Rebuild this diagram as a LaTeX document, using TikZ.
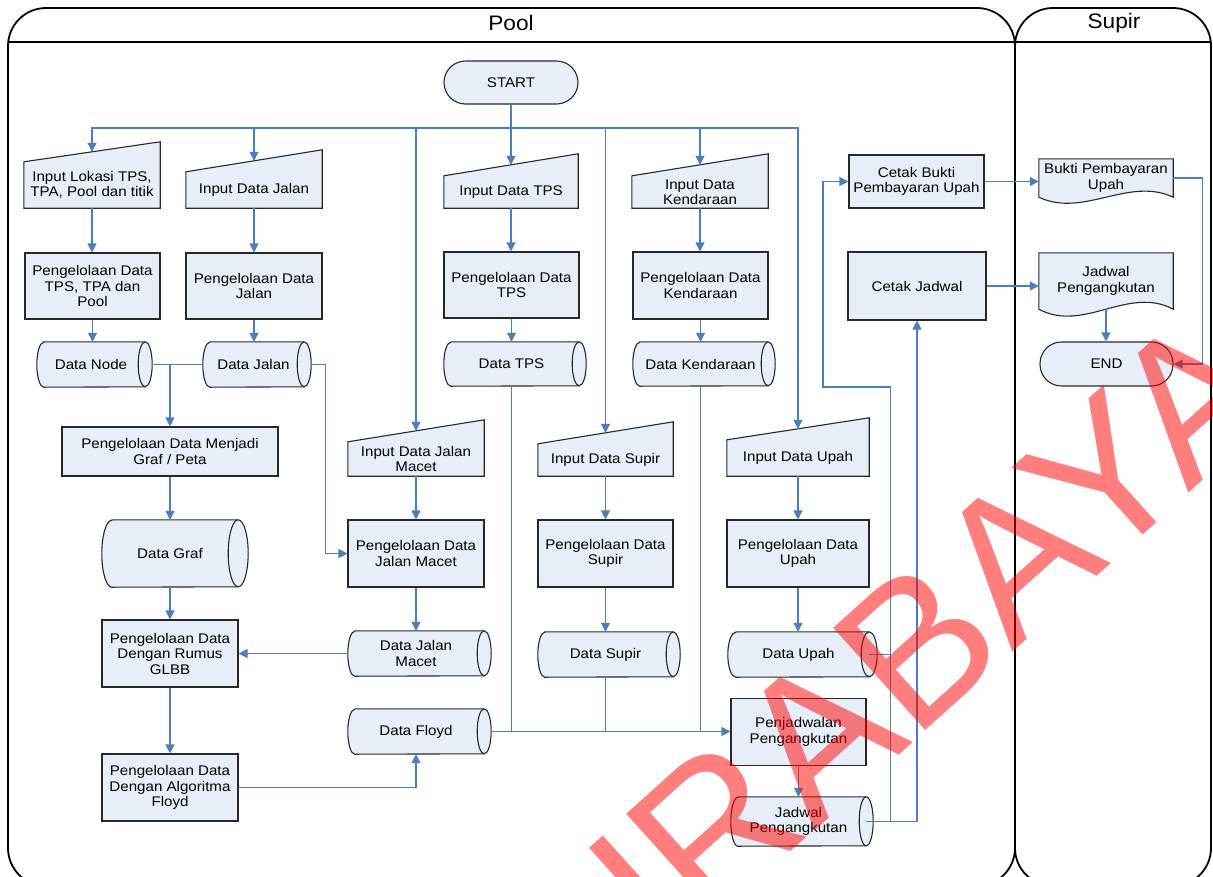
\documentclass[tikz,border=0pt]{standalone}
\usepackage{fontspec}
\setmainfont{Liberation Sans}[FakeStretch=1.08]
\newfontfamily\stampfont{Liberation Sans}
\usetikzlibrary{arrows.meta,calc,backgrounds}

\definecolor{boxfill}{RGB}{232,238,247}
\definecolor{linkblue}{RGB}{74,126,193}
\definecolor{edge}{RGB}{40,40,40}
\definecolor{stamp}{RGB}{255,0,0}

\newcommand\boxfont{\fontsize{14}{15.5}\selectfont}

\tikzset{
  shapeline/.style={draw=edge, line width=1.1pt, fill=boxfill},
  txt/.style={font=\boxfont, align=center, inner sep=0pt, text=black},
  proc/.style={txt, shapeline, rectangle},
  term/.style={txt, shapeline, rectangle, rounded corners=21.5pt},
  conn/.style={draw=linkblue, line width=1.1pt},
  arr/.style={conn, -{Triangle[length=9pt,width=9pt]}},
  lane/.style={draw=black, line width=1.8pt},
  lanetitle/.style={font=\fontsize{21}{24}\selectfont},
}

% manual input: slanted top rising to the right above the node box
\newcommand\manualinput[2]{%
  \draw[shapeline] (#1.south west) -- (#1.north west) -- ($(#1.north east)+(0,-#2)$) -- (#1.south east) -- cycle;
  \coordinate (#1-in) at ($(#1.north)+(0,{-#2/2})$);}
% stored data: curved left side, full ellipse on the right
\newcommand\storeddata[3]{%
  \draw[shapeline] ($(#1.north west)+(#2pt,0pt)$) -- (#1.north east)
     arc[start angle=90,end angle=-90,x radius=#2pt,y radius=#3pt]
     -- ($(#1.south west)+(#2pt,0pt)$)
     arc[start angle=270,end angle=90,x radius=#2pt,y radius=#3pt] -- cycle;
  \draw[shapeline,fill=none] (#1.north east) arc[start angle=90,end angle=270,x radius=#2pt,y radius=#3pt];}
% printed document: wavy lower edge
\newcommand\docshape[2]{%
  \draw[shapeline] (#1.south east) -- (#1.north east) -- (#1.north west) -- (#1.south west)
    .. controls ($(#1.south west)!0.333!(#1.south east)+(0,#2)$) and ($(#1.south west)!0.667!(#1.south east)+(0,-#2)$) .. (#1.south east) -- cycle;}
\newcommand\flowdown[2]{\draw[arr] (#1.south) -- (#1.south |- #2.north);}

\begin{document}
\begin{tikzpicture}[x=1pt,y=-1pt]
\useasboundingbox (0,0) rectangle (1213,876);
\clip (0,0) rectangle (1213,876);

% lane titles
\node[lanetitle] (poolTitle) at (511,23) {Pool};
\node[lanetitle] (supirTitle) at (1114,23) {Supir};

% terminators
\node[term, minimum width=134pt, minimum height=43pt] (start) at (511,82.5) {START};
\node[term, minimum width=133pt, minimum height=44pt] (end) at (1106.5,364) {END};

% manual inputs
\node[txt, minimum width=136pt, minimum height=46pt] (iLok) at (92,185) {Input Lokasi TPS,\\TPA, Pool dan titik};
\node[txt, minimum width=136pt, minimum height=36pt] (iJalan) at (254,190) {Input Data Jalan};
\node[txt, minimum width=134pt, minimum height=32pt] (iTPS) at (511,192) {Input Data TPS};
\node[txt, minimum width=136pt, minimum height=32pt] (iKend) at (700,192) {Input Data\\Kendaraan};
\node[txt, minimum width=136pt, minimum height=34pt] (iMacet) at (416,459) {Input Data Jalan\\Macet};
\node[txt, minimum width=135pt, minimum height=32pt] (iSupir) at (605.5,460) {Input Data Supir};
\node[txt, minimum width=142pt, minimum height=36pt] (iUpah) at (798,458) {Input Data Upah};

% processes
\node[proc, minimum width=135pt, minimum height=66pt] (pTPA) at (92.5,286) {Pengelolaan Data\\TPS, TPA dan\\Pool};
\node[proc, minimum width=136pt, minimum height=66pt] (pJalan) at (254,286) {Pengelolaan Data\\Jalan};
\node[proc, minimum width=135pt, minimum height=66pt] (pTPS) at (511.5,285) {Pengelolaan Data\\TPS};
\node[proc, minimum width=135pt, minimum height=67pt] (pKend) at (700.5,285.5) {Pengelolaan Data\\Kendaraan};
\node[proc, minimum width=135pt, minimum height=53pt] (cBukti) at (916.5,181.5) {Cetak Bukti\\Pembayaran Upah};
\node[proc, minimum width=138pt, minimum height=68pt] (cJadwal) at (917,286) {Cetak Jadwal};
\node[proc, minimum width=216pt, minimum height=49pt] (pGraf) at (170,451.5) {Pengelolaan Data Menjadi\\Graf / Peta};
\node[proc, minimum width=136pt, minimum height=67pt] (pMacet) at (416,553.5) {Pengelolaan Data\\Jalan Macet};
\node[proc, minimum width=135pt, minimum height=67pt] (pSupir) at (605.5,553.5) {Pengelolaan Data\\Supir};
\node[proc, minimum width=142pt, minimum height=67pt] (pUpah) at (798,553.5) {Pengelolaan Data\\Upah};
\node[proc, minimum width=136pt, minimum height=67pt] (pGLBB) at (170,653.5) {Pengelolaan Data\\Dengan Rumus\\GLBB};
\node[proc, minimum width=136pt, minimum height=67pt] (pFloyd) at (170,787.5) {Pengelolaan Data\\Dengan Algoritma\\Floyd};
\node[proc, minimum width=135pt, minimum height=67pt] (penj) at (798.5,732) {Penjadwalan\\Pengangkutan};

% stored data
\node[txt, minimum width=108pt, minimum height=45pt] (dNode) at (91,364.5) {Data Node};
\node[txt, minimum width=101pt, minimum height=45pt] (dJalan) at (253.5,364.5) {Data Jalan};
\node[txt, minimum width=135pt, minimum height=44pt] (dTPS) at (511.5,364) {Data TPS};
\node[txt, minimum width=135pt, minimum height=44pt] (dKend) at (700.5,364) {Data Kendaraan};
\node[txt, minimum width=136pt, minimum height=67pt] (dGraf) at (170,553.5) {Data Graf};
\node[txt, minimum width=136pt, minimum height=45pt] (dMacet) at (416,653.5) {Data Jalan\\Macet};
\node[txt, minimum width=135pt, minimum height=45pt] (dSupir) at (605.5,654.5) {Data Supir};
\node[txt, minimum width=141pt, minimum height=45pt] (dUpah) at (798.5,654.5) {Data Upah};
\node[txt, minimum width=136pt, minimum height=45pt] (dFloyd) at (416,731.5) {Data Floyd};
\node[txt, minimum width=135pt, minimum height=49pt] (dJadwal) at (798.5,821.5) {Jadwal\\Pengangkutan};

% documents
\node[txt, minimum width=134pt, minimum height=38pt] (bukti) at (1106,178) {Bukti Pembayaran\\Upah};
\node[txt, minimum width=134pt, minimum height=56pt] (jdoc) at (1106,281) {Jadwal\\Pengangkutan};

\begin{pgfonlayer}{background}
  % swimlanes
  \draw[lane, rounded corners=38pt] (8,8) rectangle (1015,886);
  \draw[lane, rounded corners=38pt] (1015,8) rectangle (1211,886);
  \draw[lane] (8,42) -- (1211,42);
  % symbol outlines
  \manualinput{iLok}{20}
  \manualinput{iJalan}{22}
  \manualinput{iTPS}{22}
  \manualinput{iKend}{22}
  \manualinput{iMacet}{22}
  \manualinput{iSupir}{22}
  \manualinput{iUpah}{22}
  \storeddata{dNode}{7}{22.5}
  \storeddata{dJalan}{7}{22.5}
  \storeddata{dTPS}{7}{22}
  \storeddata{dKend}{7}{22}
  \storeddata{dGraf}{10}{33.5}
  \storeddata{dMacet}{7}{22.5}
  \storeddata{dSupir}{7}{22.5}
  \storeddata{dUpah}{8}{22.5}
  \storeddata{dFloyd}{7}{22.5}
  \storeddata{dJadwal}{7}{24.5}
  \docshape{bukti}{21}
  \docshape{jdoc}{24}
\end{pgfonlayer}

% connectors
\coordinate (bus) at (511,128);
\draw[conn] (start.south) -- (bus);
\foreach \t in {iLok,iJalan,iMacet,iSupir,iKend,iUpah} \draw[arr] (bus) -| (\t-in);
\draw[arr] (bus) -- (iTPS-in);

\flowdown{iLok}{pTPA}
\flowdown{pTPA}{dNode}
\flowdown{iJalan}{pJalan}
\flowdown{pJalan}{dJalan}
\flowdown{iTPS}{pTPS}
\flowdown{pTPS}{dTPS}
\flowdown{iKend}{pKend}
\flowdown{pKend}{dKend}
\flowdown{pGraf}{dGraf}
\flowdown{dGraf}{pGLBB}
\flowdown{pGLBB}{pFloyd}
\flowdown{iMacet}{pMacet}
\flowdown{pMacet}{dMacet}
\flowdown{iSupir}{pSupir}
\flowdown{pSupir}{dSupir}
\flowdown{iUpah}{pUpah}
\flowdown{pUpah}{dUpah}
\flowdown{penj}{dJadwal}
\flowdown{jdoc}{end}

\draw[conn] ($(dNode.east)+(7,0)$) -- (dJalan.west);
\draw[arr] (pGraf.north |- dNode.east) -- (pGraf.north);
\draw[arr] ($(dJalan.east)+(7,0)$) -- ++(14,0) |- (pMacet.west);
\draw[arr] (dMacet.west) -- (dMacet.west -| pGLBB.east);
\draw[arr] (pFloyd.east) -| (dFloyd.south);
\draw[arr] ($(dFloyd.east)+(7,0)$) -- (dFloyd.east -| penj.west);
\draw[conn] (dTPS.south) -- (dTPS.south |- dFloyd.east);
\draw[conn] (dSupir.south) -- (dSupir.south |- dFloyd.east);
\draw[conn] (dKend.south) -- (dKend.south |- dFloyd.east);
\draw[conn] (dUpah.east) -- ++(21,0);
\draw[arr] (dJadwal.east) -- ++(24,0) |- (823,387) |- (cBukti.west);
\draw[arr] (dJadwal.east) -| (cJadwal.south);
\draw[arr] (cBukti.east) -- (cBukti.east -| bukti.west);
\draw[arr] (cJadwal.east) -- (cJadwal.east -| jdoc.west);
\draw[arr] (bukti.east) -- ++(29,0) |- (end.east);

% watermark
\node[rotate=42, text=stamp, text opacity=0.5, font=\stampfont\fontsize{200}{200}\selectfont, inner sep=0pt] (mark) at (848,708) {SURABAYA};
\end{tikzpicture}
\end{document}
